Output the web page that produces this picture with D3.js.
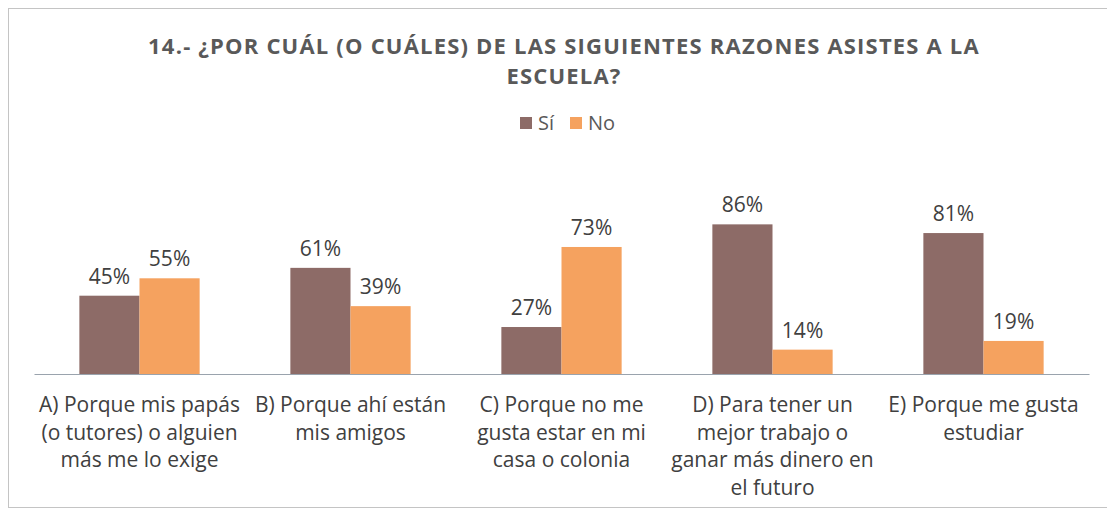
<!DOCTYPE html>
<html lang="es">
<head>
    <meta charset="UTF-8" />
    <script src="https://d3js.org/d3.v7.min.js"></script>
    <title>Razones para asistir a la escuela</title>
    <style>
        body {
            margin: 0;
            overflow: hidden;
            background: white;
        }

        text {
            font-family: "Open Sans", "Lato", sans-serif;
        }

        .title {
            font-size: 22px;
            font-weight: 700;
            letter-spacing: 1.2px;
            fill: #595959;
        }

        .legend text {
            font-size: 20px;
            fill: #595959;
        }

        .value {
            font-size: 21px;
            fill: #404040;
        }

        .cat text {
            font-size: 21px;
            fill: #404040;
        }
    </style>
</head>
<body>
    <script>
        // the data
        const categories = ["A", "B", "C", "D", "E"];
        const categoryLabels = [
            ["A) Porque mis papás", "(o tutores) o alguien", "más me lo exige"],
            ["B) Porque ahí están", "mis amigos"],
            ["C) Porque no me", "gusta estar en mi", "casa o colonia"],
            ["D) Para tener un", "mejor trabajo o", "ganar más dinero en", "el futuro"],
            ["E) Porque me gusta", "estudiar"]
        ];
        const series = ["Sí", "No"];
        const siValues = [45, 61, 27, 86, 81];
        const noValues = [55, 39, 73, 14, 19];
        const titleLines = [
            "14.- ¿POR CUÁL (O CUÁLES) DE LAS SIGUIENTES RAZONES ASISTES A LA",
            "ESCUELA?"
        ];

        const width = 1107;
        const height = 513;

        const svg = d3.select('body')
            .append('svg')
            .attr('width', width)
            .attr('height', height);

        // thin frame round the chart, like the scanned page
        svg.append('rect')
            .attr('x', 8.5)
            .attr('y', 8.5)
            .attr('width', width - 4)
            .attr('height', height - 14)
            .attr('fill', 'none')
            .attr('stroke', '#c4c4c4');

        const margin = { top: 200, right: 18, bottom: 139, left: 34 };

        const x0 = d3.scaleBand()
            .domain(categories)
            .range([margin.left, width - margin.right])
            .paddingInner(0.43)
            .paddingOuter(0.215);

        const x1 = d3.scaleBand()
            .domain(series)
            .range([0, x0.bandwidth()]);

        const y = d3.scaleLinear()
            .domain([0, 100])
            .range([height - margin.bottom, height - margin.bottom - 174]);

        const color = d3.scaleOrdinal()
            .domain(series)
            .range(["#8d6b67", "#f5a25f"]);

        const rows = categories.map((c, i) => ({
            cat: c,
            values: [
                { key: "Sí", value: siValues[i] },
                { key: "No", value: noValues[i] }
            ]
        }));

        // title
        svg.append('g')
            .selectAll('text')
            .data(titleLines)
            .join('text')
            .attr('class', 'title')
            .attr('x', 564)
            .attr('y', (d, i) => 54 + i * 30)
            .attr('text-anchor', 'middle')
            .text(d => d);

        // legend
        const legend = svg.append('g')
            .attr('class', 'legend')
            .attr('transform', 'translate(520,117)');

        const item = legend.selectAll('g')
            .data(series)
            .join('g')
            .attr('transform', (d, i) => `translate(${i * 50},0)`);

        item.append('rect')
            .attr('width', 12)
            .attr('height', 12)
            .attr('fill', d => color(d));

        item.append('text')
            .attr('x', 18)
            .attr('y', 13)
            .text(d => d);

        // bars
        const groups = svg.append('g')
            .selectAll('g')
            .data(rows)
            .join('g')
            .attr('transform', d => `translate(${x0(d.cat)},0)`);

        groups.selectAll('rect')
            .data(d => d.values)
            .join('rect')
            .attr('x', d => x1(d.key))
            .attr('y', d => y(d.value))
            .attr('width', x1.bandwidth())
            .attr('height', d => y(0) - y(d.value))
            .attr('fill', d => color(d.key));

        groups.selectAll('text')
            .data(d => d.values)
            .join('text')
            .attr('class', 'value')
            .attr('x', d => x1(d.key) + x1.bandwidth() / 2)
            .attr('y', d => y(d.value) - 12)
            .attr('text-anchor', 'middle')
            .text(d => d.value + '%');

        // category axis
        const axis = svg.append('g')
            .attr('class', 'cat')
            .attr('transform', `translate(0,${y(0)})`)
            .call(d3.axisBottom(x0).tickSize(0).tickFormat(''));

        axis.select('.domain')
            .attr('stroke', '#9aa3ad')
            .attr('stroke-width', 1.2);

        axis.selectAll('.tick text')
            .attr('y', 0)
            .attr('dy', 0)
            .each(function (d, i) {
                d3.select(this)
                    .selectAll('tspan')
                    .data(categoryLabels[i])
                    .join('tspan')
                    .attr('x', 0)
                    .attr('y', (t, j) => 38 + j * 27.7)
                    .text(t => t);
            });
    </script>
</body>
</html>
